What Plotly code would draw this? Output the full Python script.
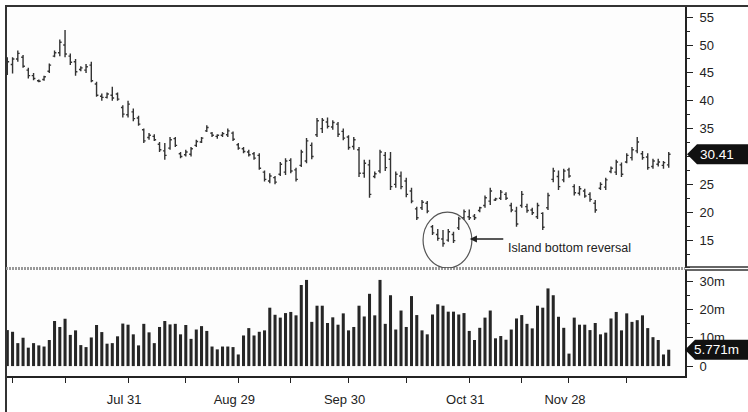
import plotly.graph_objects as go

# ---------------- data ----------------
price_high = [47.8, 47.8, 49.0, 48.2, 45.9, 45.0, 43.8, 44.5, 46.7, 49.0,
              51.0, 52.7, 48.5, 47.5, 46.2, 46.6, 47.0, 43.4, 41.3, 41.5,
              42.5, 41.5, 39.2, 40.0, 38.6, 37.3, 35.0, 34.2, 34.0, 32.6,
              32.4, 33.5, 33.5, 30.8, 31.2, 31.7, 33.0, 33.5, 35.6, 34.4,
              34.0, 34.4, 35.0, 34.5, 32.4, 31.7, 31.2, 30.8, 30.6, 27.5,
              27.0, 26.5, 29.0, 29.7, 29.7, 28.0, 31.2, 33.3, 32.5, 36.9,
              36.9, 37.0, 36.5, 36.2, 35.0, 33.8, 33.5, 31.7, 29.4, 29.4,
              27.3, 31.2, 30.8, 30.8, 27.3, 27.3, 26.2, 24.4, 21.0, 22.2,
              22.0, 17.7, 17.0, 16.8, 17.0, 16.5, 19.2, 20.5, 20.5, 19.7,
              21.0, 23.0, 24.4, 22.6, 24.0, 23.6, 21.7, 21.0, 23.8, 21.5,
              20.8, 21.7, 20.0, 23.5, 28.0, 27.5, 27.8, 28.0, 25.0, 24.7,
              24.2, 23.6, 22.2, 25.4, 26.2, 28.2, 29.4, 28.9, 30.6, 31.7,
              33.5, 31.0, 30.6, 29.6, 29.6, 29.2, 30.8]
price_low = [44.6, 44.9, 47.0, 45.9, 44.0, 43.7, 43.3, 43.6, 45.0, 47.8,
             48.0, 47.8, 46.4, 44.5, 45.3, 45.0, 43.3, 40.7, 40.0, 40.4,
             40.0, 40.0, 37.0, 37.0, 36.3, 35.5, 32.4, 33.0, 32.8, 30.8,
             29.4, 31.2, 31.7, 29.7, 30.0, 30.0, 31.7, 32.4, 34.4, 33.5,
             33.2, 33.5, 33.5, 32.8, 31.2, 30.6, 30.0, 29.4, 27.6, 25.5,
             25.2, 25.0, 26.5, 26.7, 27.0, 25.5, 28.1, 28.8, 29.5, 33.5,
             34.2, 35.0, 34.8, 33.5, 32.9, 31.2, 31.2, 26.3, 26.2, 22.6,
             26.1, 27.0, 27.4, 24.0, 24.4, 24.1, 22.7, 21.6, 18.6, 20.4,
             19.8, 15.9, 14.9, 13.8, 14.7, 14.5, 16.8, 18.6, 18.6, 18.6,
             20.0, 20.8, 21.3, 22.0, 22.2, 22.2, 20.0, 17.4, 20.8, 19.9,
             19.5, 18.8, 16.8, 20.4, 25.4, 24.0, 25.4, 26.2, 23.0, 23.0,
             22.6, 21.9, 19.9, 24.0, 24.0, 27.0, 26.7, 26.3, 28.8, 29.3,
             30.6, 29.4, 27.6, 27.8, 28.2, 27.8, 28.0]
price_open = [45.5, 46.5, 47.5, 47.8, 45.5, 44.5, 43.6, 43.8, 45.3, 48.0,
              48.6, 50.0, 48.0, 47.0, 45.6, 45.5, 46.4, 43.0, 40.8, 40.6,
              41.0, 41.2, 38.8, 37.5, 38.0, 36.9, 34.8, 33.4, 33.6, 32.2,
              31.0, 31.5, 33.2, 30.5, 30.3, 30.4, 32.0, 32.6, 34.6, 34.2,
              33.6, 33.8, 33.9, 34.2, 32.1, 31.4, 30.8, 30.5, 30.2, 27.2,
              25.6, 26.2, 26.8, 27.2, 29.3, 27.6, 28.4, 29.2, 32.0, 33.9,
              35.0, 36.2, 35.3, 35.8, 34.5, 33.5, 31.8, 31.2, 27.0, 28.5,
              26.4, 27.4, 30.2, 29.5, 25.0, 26.5, 25.6, 23.8, 20.6, 20.8,
              21.6, 17.4, 16.0, 15.2, 15.0, 16.0, 17.2, 19.0, 19.2, 19.3,
              20.3, 21.2, 22.0, 22.2, 22.5, 23.2, 21.2, 20.2, 21.2, 21.0,
              20.4, 19.2, 19.8, 20.8, 25.9, 26.4, 25.8, 27.6, 24.6, 23.4,
              23.8, 23.2, 21.6, 24.3, 24.5, 27.3, 27.2, 28.5, 29.0, 29.8,
              31.0, 30.5, 29.9, 28.2, 28.6, 28.4, 28.5]
price_close = [47.0, 47.5, 48.5, 46.2, 44.5, 44.0, 43.5, 44.3, 46.4, 48.6,
               50.5, 48.4, 46.9, 45.2, 45.9, 46.1, 43.6, 41.0, 40.6, 41.2,
               40.5, 40.3, 37.6, 39.4, 36.8, 35.8, 32.8, 33.8, 33.0, 31.2,
               30.2, 33.0, 32.0, 30.0, 30.8, 31.4, 32.7, 33.3, 35.2, 33.8,
               33.8, 34.1, 34.6, 33.1, 31.5, 30.9, 30.3, 29.7, 27.9, 25.9,
               26.5, 25.4, 28.6, 29.2, 27.4, 25.9, 30.8, 32.8, 30.0, 36.4,
               36.5, 35.4, 36.1, 34.0, 33.3, 31.6, 33.0, 27.0, 28.8, 23.2,
               26.9, 30.8, 28.0, 24.6, 26.8, 24.6, 23.2, 22.0, 19.0, 21.8,
               20.2, 16.3, 15.3, 14.4, 16.5, 14.9, 18.8, 20.1, 19.0, 19.0,
               20.8, 22.6, 23.8, 22.4, 23.6, 22.5, 20.4, 17.9, 23.2, 20.3,
               19.9, 21.2, 17.3, 23.0, 27.4, 24.6, 27.4, 26.5, 23.5, 24.2,
               22.9, 22.3, 20.4, 25.0, 25.8, 27.9, 29.0, 26.8, 30.2, 31.2,
               32.6, 29.8, 28.0, 29.2, 29.0, 28.9, 30.41]
volume_m = [12.7, 12.1, 8.1, 10.0, 6.5, 8.1, 7.3, 6.9, 9.2, 15.9,
            13.8, 16.7, 11.0, 12.6, 7.4, 6.7, 10.1, 14.5, 12.0, 7.9,
            8.1, 10.5, 15.0, 14.6, 11.2, 7.3, 14.9, 11.9, 8.1, 13.8,
            15.9, 14.7, 14.9, 11.2, 14.5, 9.6, 12.9, 14.1, 12.4, 6.9,
            5.9, 6.9, 6.9, 6.7, 4.1, 10.8, 13.4, 10.8, 12.1, 12.6,
            20.6, 18.1, 17.1, 18.7, 19.1, 17.9, 28.6, 30.4, 15.6, 21.3,
            21.3, 15.2, 17.2, 14.6, 18.6, 12.6, 13.8, 21.3, 17.5,
            25.5, 17.9, 30.4, 14.9, 25.0, 12.9, 19.6, 13.8, 24.7, 18.0,
            12.6, 11.2, 18.2, 21.8, 21.3, 19.2, 19.2, 18.2, 18.7, 12.4,
            9.2, 13.5, 17.1, 19.6, 9.8, 10.6, 9.3, 12.9, 16.8, 18.0,
            14.9, 13.3, 21.3, 20.6, 27.4, 25.0, 17.4, 13.5, 4.4, 17.1,
            14.6, 14.6, 12.7, 15.2, 11.2, 11.8, 16.8, 19.1, 12.6, 18.6,
            15.6, 16.2, 17.9, 13.4, 10.2, 9.2, 4.1, 5.771]
day_index = list(range(len(price_close)))

x_tick_pos = [1, 11, 23, 34, 44, 54, 65, 76, 88, 98, 107, 118]
x_tick_text = ["", "", "Jul 31", "", "Aug 29", "", "Sep 30", "", "Oct 31", "", "Nov 28", ""]
price_ticks = [15, 20, 25, 35, 40, 45, 50, 55]
vol_ticks = [0, 10, 20, 30]
vol_tick_text = ["0", "10m", "20m", "30m"]
last_price = 30.41
last_volume = 5.771
annotation_text = "Island bottom reversal"

FONT = "Liberation Sans Narrow, Liberation Sans, Arial, sans-serif"
DARK = "#222222"
FS = 12.5

fig = go.Figure()
fig.add_trace(go.Ohlc(
    x=day_index, open=price_open, high=price_high, low=price_low, close=price_close,
    xaxis="x", yaxis="y",
    increasing=dict(line=dict(color="#333333", width=1.4)),
    decreasing=dict(line=dict(color="#333333", width=1.4)),
    tickwidth=0.35, showlegend=False, hoverinfo="skip"))
fig.add_trace(go.Bar(
    x=day_index, y=volume_m, xaxis="x2", yaxis="y2",
    marker=dict(color="#262626", line=dict(width=0)),
    showlegend=False, hoverinfo="skip"))

xr = [-0.25, 129.1]
fig.update_layout(
    width=748, height=412,
    margin=dict(l=6, r=63, t=6, b=36, autoexpand=False),
    paper_bgcolor="white", plot_bgcolor="#fdfdfd",
    font=dict(family=FONT, size=FS, color=DARK),
    bargap=0.42,
    xaxis=dict(domain=[0, 1], anchor="y", range=xr, matches="x2", automargin=False,
               showticklabels=False, ticks="", showgrid=False, zeroline=False,
               rangeslider=dict(visible=False), showline=False),
    yaxis=dict(domain=[0.292, 1], anchor="x", side="right", range=[10, 57],
               automargin=False,
               tickvals=price_ticks, ticks="outside", ticklen=6, tickwidth=1.3,
               tickcolor=DARK, showline=True, linecolor=DARK, linewidth=2,
               showgrid=False, zeroline=False, ticklabelstandoff=4,
               minor=dict(tick0=0, dtick=2.5, ticks="outside", ticklen=3,
                          tickcolor=DARK, tickwidth=1.2, showgrid=False),
               tickfont=dict(size=FS + 0.5)),
    xaxis2=dict(domain=[0, 1], anchor="y2", range=xr, automargin=False,
                tickmode="array", tickvals=x_tick_pos, ticktext=x_tick_text,
                ticks="outside", ticklen=5, tickwidth=1.3, tickcolor=DARK,
                showline=True, linecolor=DARK, linewidth=1.5,
                showgrid=False, zeroline=False, ticklabelstandoff=6,
                ticklabelshift=-4, tickfont=dict(size=FS + 0.5)),
    yaxis2=dict(domain=[0, 0.2865], anchor="x2", side="right", range=[-3.5, 33.9],
                automargin=False,
                tickvals=vol_ticks, ticktext=vol_tick_text,
                ticks="outside", ticklen=6, tickwidth=1.3, tickcolor=DARK,
                showline=True, linecolor=DARK, linewidth=2,
                showgrid=False, zeroline=False, ticklabelstandoff=4,
                minor=dict(tick0=0, dtick=5, ticks="outside", ticklen=3,
                           tickcolor=DARK, tickwidth=1.2, showgrid=False),
                tickfont=dict(size=FS + 0.5)),
)

shapes = []
# frame lines
shapes.append(dict(type="line", xref="paper", yref="paper", x0=0, x1=1.0928, y0=1.0, y1=1.0,
                   line=dict(color="#333333", width=2)))
shapes.append(dict(type="line", xref="paper", yref="paper", x0=0, x1=0, y0=1.003, y1=-0.1,
                   line=dict(color="#333333", width=2)))
# panel separator
shapes.append(dict(type="line", xref="paper", yref="paper", x0=0, x1=1, y0=0.2905, y1=0.2905,
                   line=dict(color="#999999", width=3, dash="2px,1px")))
shapes.append(dict(type="line", xref="paper", yref="paper", x0=1, x1=1.0928, y0=0.2946, y1=0.2946,
                   line=dict(color="#333333", width=1.5)))
shapes.append(dict(type="line", xref="paper", yref="paper", x0=1, x1=1.0928, y0=0.2865, y1=0.2865,
                   line=dict(color="#333333", width=1.5)))
# island circle
shapes.append(dict(type="circle", xref="x", yref="y", x0=79.2, x1=88.5, y0=10.0, y1=20.0,
                   line=dict(color="#555555", width=1.2)))
# price last-value tag
shapes.append(dict(type="path", xref="paper", yref="y",
                   path="M 1.0029,30.41 L 1.0177,32.2 L 1.0928,32.2 L 1.0928,28.62 L 1.0177,28.62 Z",
                   fillcolor="#111111", line=dict(width=0)))
# volume last-value tag
shapes.append(dict(type="path", xref="paper", yref="y2",
                   path="M 1.0,5.771 L 1.0147,9.3 L 1.0928,9.3 L 1.0928,2.24 L 1.0147,2.24 Z",
                   fillcolor="#111111", line=dict(width=0)))
fig.update_layout(shapes=shapes)

annotations = [
    dict(xref="paper", yref="y", x=1.047, y=last_price, text=f"{last_price:.2f}",
         xanchor="center", yanchor="middle",
         showarrow=False, font=dict(color="white", size=FS + 1, family=FONT)),
    dict(xref="paper", yref="y2", x=1.047, y=last_volume, text=f"{last_volume:.3f}m",
         xanchor="center", yanchor="middle",
         showarrow=False, font=dict(color="white", size=FS + 1, family=FONT)),
    dict(xref="x", yref="y", x=88.1, y=15.2, ax=35, ay=0, text="", showarrow=True,
         arrowhead=2, arrowsize=1.1, arrowwidth=1.3, arrowcolor=DARK),
    dict(xref="x", yref="y", x=95.0, y=13.6, text=annotation_text, showarrow=False,
         xanchor="left", font=dict(size=FS, color=DARK, family=FONT)),
]
fig.update_layout(annotations=annotations)

fig.write_html("out.html", config={"displayModeBar": False},
               post_script="document.body.style.margin='0';document.body.style.overflow='hidden';")
